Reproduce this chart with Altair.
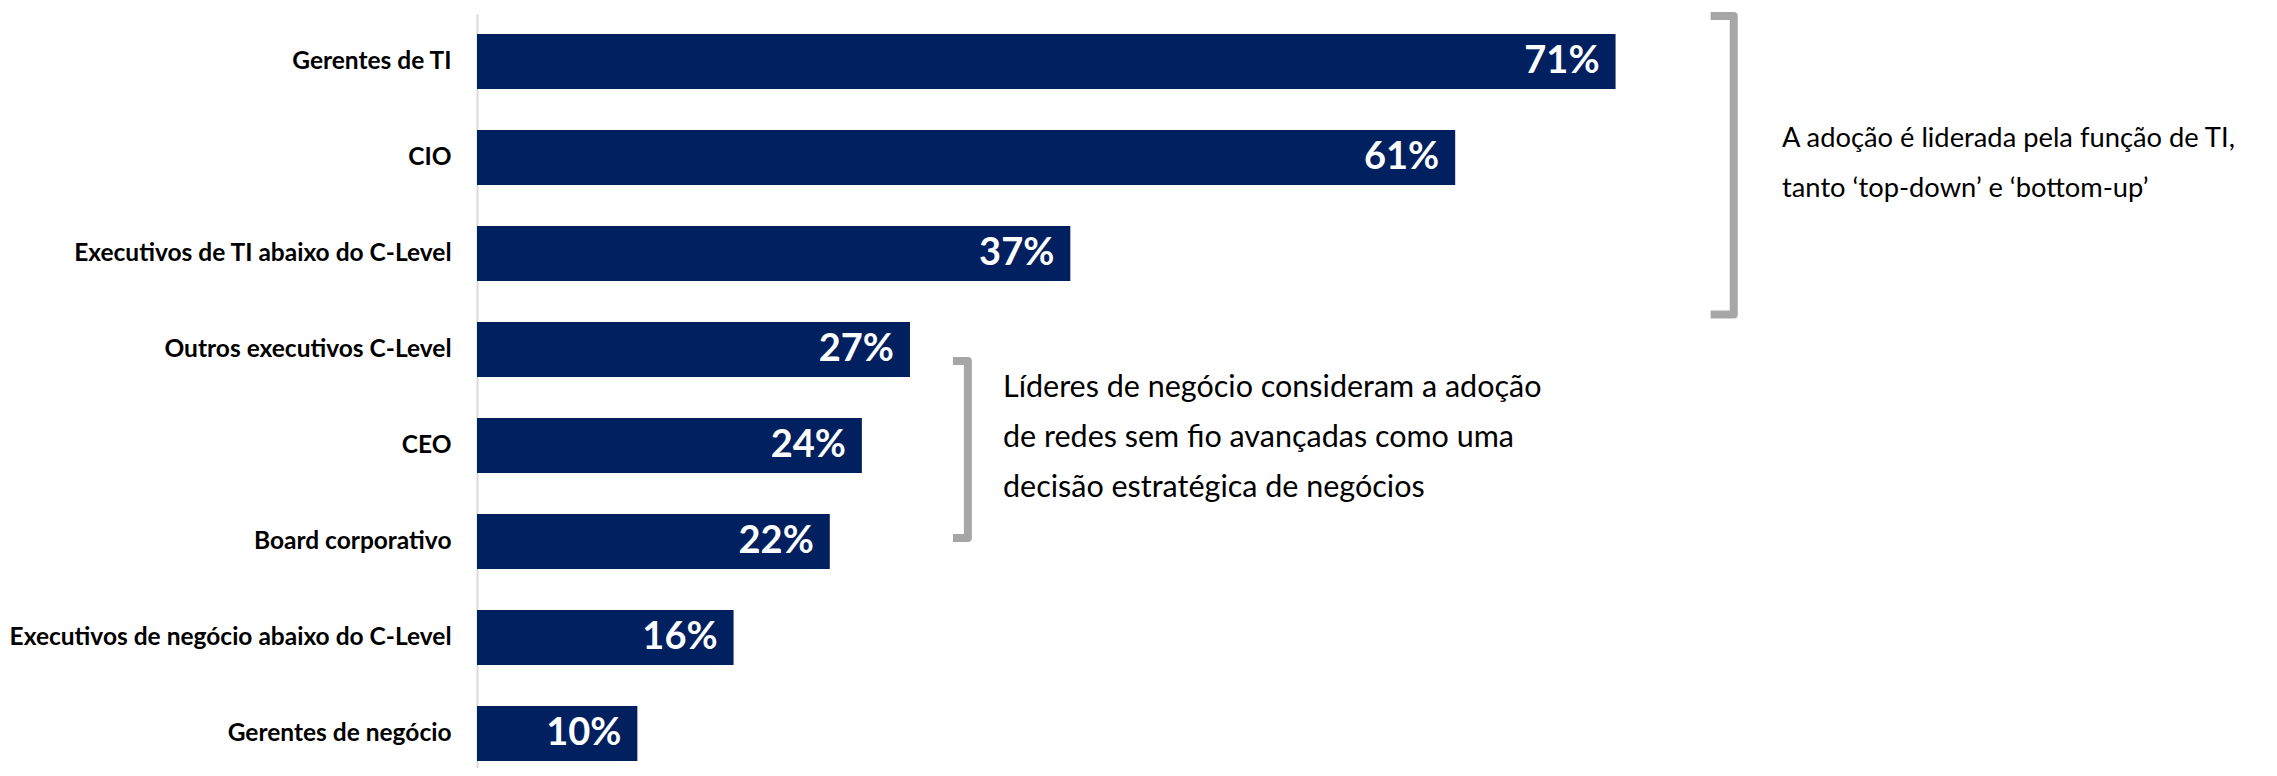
import altair as alt
import pandas as pd

# ---- data ----
categories = [
    "Gerentes de TI",
    "CIO",
    "Executivos de TI abaixo do C-Level",
    "Outros executivos C-Level",
    "CEO",
    "Board corporativo",
    "Executivos de negócio abaixo do C-Level",
    "Gerentes de negócio",
]
values = [71, 61, 37, 27, 24, 22, 16, 10]

# annotations (x in % units, y in row units: row 0 = first bar centre)
bracket_ids = ["ti", "negocio"]
bracket_x = [78.37, 30.61]
bracket_left = [76.93, 29.68]
bracket_top = [-0.474, 3.12]
bracket_bottom = [2.635, 4.964]

note_ti = "A adoção é liderada pela função de TI,\ntanto ‘top-down’ e ‘bottom-up’"
note_ti_x = [81.38]
note_ti_row = [0.8906]

note_neg = "Líderes de negócio consideram a adoção\nde redes sem fio avançadas como uma\ndecisão estratégica de negócios"
note_neg_x = [32.80]
note_neg_row = [3.4948]

# ---- tables ----
bars_df = pd.DataFrame({
    "cat": categories,
    "val": values,
    "label": [f"{v}%" for v in values],
})

rows = []
for bid, bx, bl, bt, bb in zip(bracket_ids, bracket_x, bracket_left, bracket_top, bracket_bottom):
    pts = [(bl, bt), (bx, bt), (bx, bb), (bl, bb)]
    for i, (px, py) in enumerate(pts):
        rows.append({"id": bid, "ord": i, "bx": px, "row": py})
brackets_df = pd.DataFrame(rows)

ti_df = pd.DataFrame({"note": [note_ti], "nx": note_ti_x, "row": note_ti_row})
neg_df = pd.DataFrame({"note": [note_neg], "nx": note_neg_x, "row": note_neg_row})

FONT = "Lato"
NAVY = "#002060"
GRAY = "#A6A6A6"

xscale = alt.Scale(domain=[0, 111], nice=False, zero=True)
yband = alt.Scale(paddingInner=0.427, paddingOuter=0.1406, align=0.741)
yrow = alt.Scale(domain=[-0.4948, 7.3594], reverse=True, nice=False, zero=False)

y_axis = alt.Axis(
    domain=True,
    domainColor="#D9D9D9",
    domainWidth=2,
    ticks=False,
    grid=False,
    labelFont=FONT,
    labelFontWeight="bold",
    labelFontSize=24.5,
    labelColor="#000000",
    labelPadding=26,
    labelLimit=600,
)

bars = alt.Chart(bars_df).mark_bar(color=NAVY).encode(
    x=alt.X("val:Q", scale=xscale, axis=None),
    y=alt.Y("cat:N", sort=categories, title=None, scale=yband, axis=y_axis),
)

labels = alt.Chart(bars_df).mark_text(
    align="right",
    baseline="middle",
    dx=-16,
    font=FONT,
    fontWeight="bold",
    fontSize=38,
    color="white",
).encode(
    x=alt.X("val:Q", scale=xscale, axis=None),
    y=alt.Y("cat:N", sort=categories, title=None, scale=yband, axis=y_axis),
    text="label:N",
)

brackets = alt.Chart(brackets_df).mark_line(
    color=GRAY, strokeWidth=8, strokeJoin="round", strokeCap="butt"
).encode(
    x=alt.X("bx:Q", scale=xscale, axis=None),
    y=alt.Y("row:Q", scale=yrow, axis=None),
    detail="id:N",
    order="ord:Q",
)


def note_layer(df, size):
    return alt.Chart(df).mark_text(
        align="left",
        baseline="alphabetic",
        lineBreak="\n",
        lineHeight=50,
        font=FONT,
        fontSize=size,
        color="#000000",
    ).encode(
        x=alt.X("nx:Q", scale=xscale, axis=None),
        y=alt.Y("row:Q", scale=yrow, axis=None),
        text="note:N",
    )


base = alt.layer(bars, labels)
annot = alt.layer(brackets, note_layer(ti_df, 27.3), note_layer(neg_df, 30.5))

chart = alt.layer(base, annot).resolve_scale(y="independent").properties(
    width=1780,
    height=754,
    padding={"left": 469, "top": 6, "right": 0, "bottom": 0},
    autosize=alt.AutoSizeParams(type="none"),
    background="white",
).configure_view(stroke=None)

chart.save("out.html", embed_options={"renderer": "svg", "actions": False})
